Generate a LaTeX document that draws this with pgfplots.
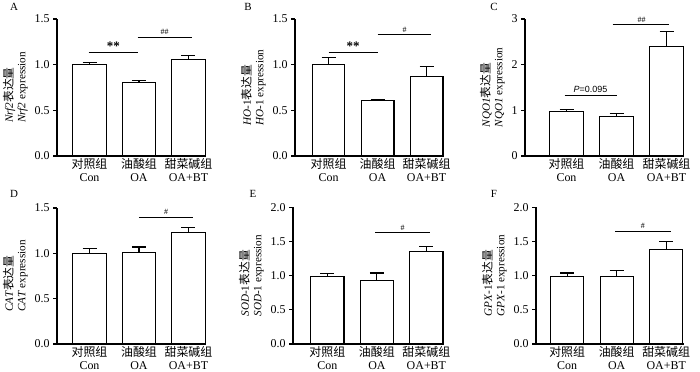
\documentclass[border=0pt]{standalone}
\usepackage{pgfplots}
\pgfplotsset{compat=1.18}
\usepackage{fontspec}
\setmainfont{Liberation Serif}
\newfontfamily\cjk{Noto Sans CJK SC}
\newfontfamily\arial{Liberation Sans}
\newcommand{\bdl}{{\cjk\fontsize{11.8}{12}\selectfont 表达量}}
\pgfplotsset{
  panel/.style={
    scale only axis,
    axis lines=left,
    axis line style={line width=1.3pt,-},
    enlargelimits=false,
    ymin=0,
    xmax=3.35,
    xtick={1,2,3},
    xticklabels={{{\cjk 对照组}\\Con},{{\cjk 油酸组}\\OA},{{\cjk 甜菜碱组}\\OA+BT}},
    xtick style={draw=none},
    xticklabel style={align=center,font=\fontsize{12}{13.5}\selectfont,inner sep=0pt,yshift=2bp},
    ytick style={line width=1.2pt,black},
    tick align=outside,
    major tick length=4bp,
    yticklabel style={font=\fontsize{12}{14}\selectfont},
    /pgf/number format/assume math mode=true,
    ylabel style={align=left,font=\fontsize{11.2}{12.5}\selectfont},
    ybar, bar width=0.67, bar shift=0pt,
    clip=false,
  },
  barplot/.style={draw=black,fill=white,line width=1.1pt,
    error bars/.cd, y dir=plus, y explicit,
    error mark=|,
    error bar style={line width=1.1pt,black,solid},
    error mark options={line width=1.1pt,black,mark size=7bp}},
  dec1/.style={yticklabel style={/pgf/number format/.cd,fixed,fixed zerofill,precision=1}},
  sig/.style={sharp plot,no markers,draw=black,line width=1.1pt,fill=none,forget plot},
}
\begin{document}
\begin{tikzpicture}
\path[use as bounding box] (0,0) rectangle (700bp,372bp);
% panel letters
\node[font=\fontsize{11}{12}\selectfont] at (14bp,365bp) {A};
\node[font=\fontsize{11}{12}\selectfont] at (248bp,365bp) {B};
\node[font=\fontsize{11}{12}\selectfont] at (494bp,365bp) {C};
\node[font=\fontsize{11}{12}\selectfont] at (14bp,178bp) {D};
\node[font=\fontsize{11}{12}\selectfont] at (253bp,178bp) {E};
\node[font=\fontsize{11}{12}\selectfont] at (494bp,178bp) {F};

% A
\begin{axis}[panel,dec1,at={(57bp,216bp)},anchor=south west,width=148.8bp,height=137bp,
  xmin=0.343,ymax=1.5,ytick={0,0.5,1,1.5},
  ylabel={\textit{Nrf2}\bdl\\\textit{Nrf2} expression}]
\addplot[barplot] coordinates {(1,1.00) += (0,0.025) (2,0.80) += (0,0.03) (3,1.06) += (0,0.04)};
\addplot[sig] coordinates {(0.98,1.135) (1.98,1.135)};
\addplot[sig] coordinates {(1.97,1.30) (3.08,1.30)};
\node[font=\bfseries\fontsize{13}{13}\selectfont,anchor=base] at (axis cs:1.48,1.155) {**};
\node[font=\fontsize{8}{8}\selectfont,anchor=base] at (axis cs:2.52,1.325) {\#\#};
\end{axis}

% B
\begin{axis}[panel,dec1,at={(295bp,216bp)},anchor=south west,width=148.7bp,height=137bp,
  xmin=0.316,ymax=1.5,ytick={0,0.5,1,1.5},
  ylabel={\textit{HO}-1\bdl\\\textit{HO}-1 expression}]
\addplot[barplot] coordinates {(1,1.00) += (0,0.08) (2,0.61) += (0,0.008) (3,0.87) += (0,0.11)};
\addplot[sig] coordinates {(1,1.13) (2,1.13)};
\addplot[sig] coordinates {(2,1.33) (3.1,1.33)};
\node[font=\bfseries\fontsize{13}{13}\selectfont,anchor=base] at (axis cs:1.5,1.15) {**};
\node[font=\fontsize{8}{8}\selectfont,anchor=base] at (axis cs:2.55,1.355) {\#};
\end{axis}

% C
\begin{axis}[panel,at={(525bp,216bp)},anchor=south west,width=159bp,height=137bp,
  xmin=0.17,ymax=3,ytick={0,1,2,3},
  ylabel={\textit{NQO1}\bdl\\\textit{NQO1} expression}]
\addplot[barplot] coordinates {(1,0.98) += (0,0.04) (2,0.87) += (0,0.06) (3,2.40) += (0,0.32)};
\addplot[sig] coordinates {(0.96,1.32) (2.0,1.32)};
\addplot[sig] coordinates {(1.92,2.87) (3.05,2.87)};
\node[font=\arial\fontsize{9}{9}\selectfont,anchor=base] at (axis cs:1.48,1.40) {\textit{P}=0.095};
\node[font=\fontsize{8}{8}\selectfont,anchor=base] at (axis cs:2.5,2.93) {\#\#};
\end{axis}

% D
\begin{axis}[panel,dec1,at={(57bp,28bp)},anchor=south west,width=148.8bp,height=136bp,
  xmin=0.343,ymax=1.5,ytick={0,0.5,1,1.5},
  ylabel={\textit{CAT}\bdl\\\textit{CAT} expression}]
\addplot[barplot] coordinates {(1,1.00) += (0,0.055) (2,1.01) += (0,0.06) (3,1.23) += (0,0.05)};
\addplot[sig] coordinates {(2,1.40) (3.1,1.40)};
\node[font=\fontsize{8}{8}\selectfont,anchor=base] at (axis cs:2.55,1.425) {\#};
\end{axis}

% E
\begin{axis}[panel,dec1,at={(293bp,28bp)},anchor=south west,width=150.7bp,height=136.5bp,
  xmin=0.305,ymax=2,ytick={0,0.5,1,1.5,2},
  ylabel={\textit{SOD}-1\bdl\\\textit{SOD}-1 expression}]
\addplot[barplot] coordinates {(1,0.99) += (0,0.04) (2,0.93) += (0,0.11) (3,1.35) += (0,0.08)};
\addplot[sig] coordinates {(1.97,1.63) (3.07,1.63)};
\node[font=\fontsize{8}{8}\selectfont,anchor=base] at (axis cs:2.52,1.665) {\#};
\end{axis}

% F
\begin{axis}[panel,dec1,at={(536bp,28bp)},anchor=south west,width=147.5bp,height=136.5bp,
  xmin=0.37,ymax=2,ytick={0,0.5,1,1.5,2},
  ylabel={\textit{GPX}-1\bdl\\\textit{GPX}-1 expression}]
\addplot[barplot] coordinates {(1,0.99) += (0,0.05) (2,0.99) += (0,0.09) (3,1.38) += (0,0.12)};
\addplot[sig] coordinates {(1.97,1.65) (3.1,1.65)};
\node[font=\fontsize{8}{8}\selectfont,anchor=base] at (axis cs:2.53,1.685) {\#};
\end{axis}
\end{tikzpicture}
\end{document}
